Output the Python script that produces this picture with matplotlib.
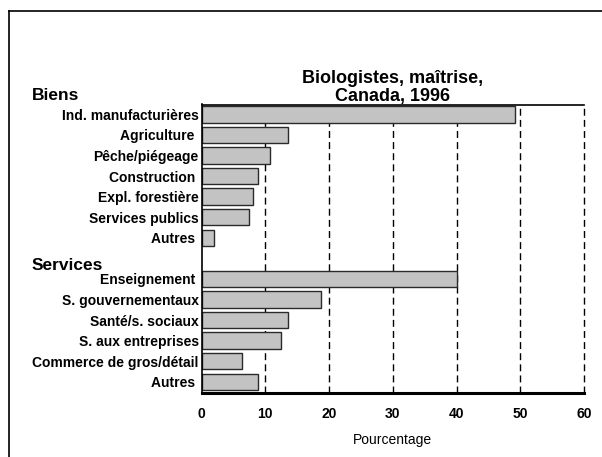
# biologistes_maitrise.py
# Répartition des biologistes (maîtrise) par industrie, Canada, 1996

import matplotlib
matplotlib.use("Agg")
import matplotlib.pyplot as plt
from matplotlib.lines import Line2D

plt.rcParams['font.family'] = ['Liberation Sans', 'DejaVu Sans']

# Données
biens_labels = ['Ind. manufacturières', 'Agriculture ', 'Pêche/piégeage',
                'Construction ', 'Expl. forestière', 'Services publics', 'Autres ']
biens_values = [49.2, 13.5, 10.8, 8.8, 8.0, 7.4, 2.0]

services_labels = ['Enseignement ', 'S. gouvernementaux', 'Santé/s. sociaux',
                   'S. aux entreprises', 'Commerce de gros/détail', 'Autres ']
services_values = [40.0, 18.7, 13.5, 12.4, 6.3, 8.9]

x_ticks = [0, 10, 20, 30, 40, 50, 60]
titre = "Biologistes, maîtrise,\nCanada, 1996"
x_label = "Pourcentage"
groupes = ['Biens', 'Services']


def main():
    W, H = 602, 457
    fig = plt.figure(figsize=(W / 100, H / 100), dpi=100)

    # Axe principal (coordonnées en pixels converties en fractions)
    left, right, top, bottom = 201.5, 584.0, 104.5, 392.7
    ax = fig.add_axes([left / W, 1 - bottom / H, (right - left) / W, (bottom - top) / H])

    # Positions: groupe Biens, une ligne vide, puis Services
    pos_biens = list(range(len(biens_values)))
    pos_services = [len(biens_values) + 1 + i for i in range(len(services_values))]
    positions = pos_biens + pos_services
    valeurs = biens_values + services_values
    etiquettes = biens_labels + services_labels

    # Grille verticale en tirets, derrière les barres
    for xv in x_ticks[1:]:
        ax.axvline(xv, color='black', lw=1.0, dashes=(5, 3), zorder=0, clip_on=False)

    ax.barh(positions, valeurs, height=0.8, color='#c3c3c3',
            edgecolor='#2a2a2a', linewidth=1.0, zorder=2)

    ax.set_xlim(0, 60)
    ax.set_ylim(13.53, -0.48)
    ax.set_xticks(x_ticks)
    ax.set_xticklabels([str(v) for v in x_ticks], fontweight='bold', fontsize=10)
    ax.set_yticks(positions)
    ax.set_yticklabels(etiquettes, fontweight='bold', fontsize=10)
    ax.tick_params(axis='both', length=0)
    ax.tick_params(axis='x', pad=10)
    ax.tick_params(axis='y', pad=2)
    ax.set_xlabel(x_label, fontsize=10, labelpad=9)

    ax.spines['right'].set_visible(False)
    ax.spines['left'].set_linewidth(1.2)
    ax.spines['top'].set_linewidth(1.2)
    ax.spines['bottom'].set_linewidth(2.2)

    # Titre centré au-dessus de l'axe
    fig.text((left + right) / 2 / W, 1 - 87.5 / H, titre, ha='center', va='center',
             fontsize=13, fontweight='bold', linespacing=1.1)

    # Titres de groupes
    fig.text(32 / W, 1 - 96 / H, groupes[0], ha='left', va='center',
             fontsize=12.5, fontweight='bold')
    fig.text(32 / W, 1 - 265 / H, groupes[1], ha='left', va='center',
             fontsize=12.5, fontweight='bold')

    # Cadre partiel (haut et gauche)
    fig.add_artist(Line2D([9 / W, 1], [1 - 11 / H, 1 - 11 / H], color='black', lw=1.2))
    fig.add_artist(Line2D([9 / W, 9 / W], [1 - 11 / H, 0], color='black', lw=1.2))

    fig.savefig('out.png', dpi=100)


if __name__ == "__main__":
    main()
